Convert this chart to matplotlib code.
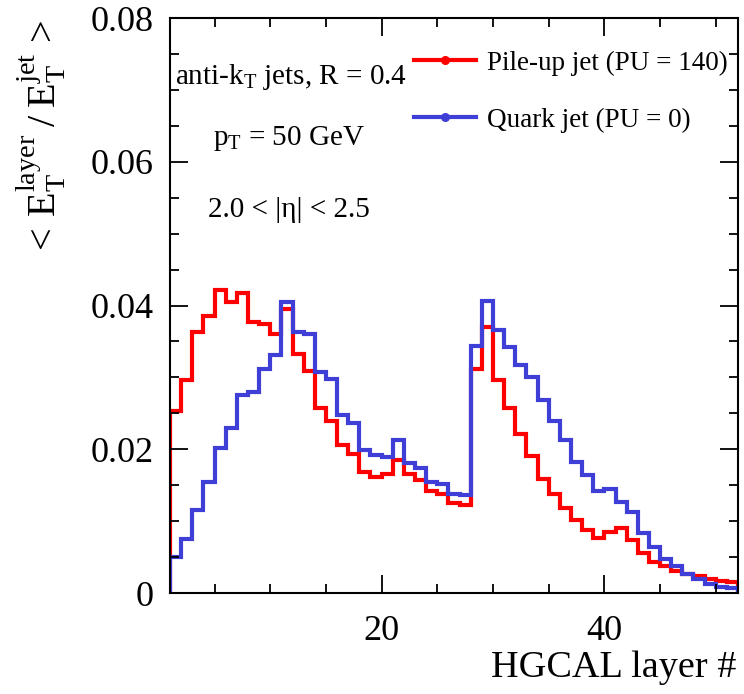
import numpy as np
import matplotlib
matplotlib.use("Agg")
import matplotlib.pyplot as plt
from matplotlib.ticker import MultipleLocator, FuncFormatter

# ---- data: per-layer mean fraction, layers 1..51 (bin edges 1..52) ----
layer_edges = list(range(1, 53))
pileup = [0.0253, 0.0297, 0.0363, 0.0386, 0.0422, 0.0405, 0.0417, 0.0377, 0.0375, 0.0361,
          0.0395, 0.0333, 0.0309, 0.0257, 0.0240, 0.0206, 0.0194, 0.0168, 0.0162, 0.0165,
          0.0185, 0.0166, 0.0157, 0.0142, 0.0138, 0.0125, 0.0123, 0.0311, 0.0370, 0.0297,
          0.0257, 0.0221, 0.0190, 0.0159, 0.0138, 0.0118, 0.0101, 0.0088, 0.0077, 0.0085,
          0.0091, 0.0074, 0.0055, 0.0043, 0.0037, 0.0031, 0.0026, 0.0023, 0.0019, 0.0017,
          0.0015]
quark = [0.0050, 0.0075, 0.0115, 0.0154, 0.0202, 0.0230, 0.0275, 0.0280, 0.0312, 0.0331,
         0.0405, 0.0363, 0.0361, 0.0307, 0.0298, 0.0247, 0.0237, 0.0199, 0.0192, 0.0189,
         0.0213, 0.0181, 0.0174, 0.0155, 0.0152, 0.0138, 0.0136, 0.0344, 0.0407, 0.0366,
         0.0343, 0.0317, 0.0301, 0.0268, 0.0240, 0.0213, 0.0182, 0.0164, 0.0142, 0.0145,
         0.0127, 0.0113, 0.0083, 0.0064, 0.0048, 0.0037, 0.0027, 0.0019, 0.0013, 0.0009,
         0.0007]
labels = ["Pile-up jet (PU = 140)", "Quark jet (PU = 0)"]
colors = ["#ff0000", "#3f3fd8"]

plt.rcParams["font.family"] = ["Liberation Serif", "DejaVu Serif"]
plt.rcParams["mathtext.fontset"] = "custom"
plt.rcParams["mathtext.rm"] = "Liberation Serif"
plt.rcParams["mathtext.it"] = "Liberation Serif:italic"

fig = plt.figure(figsize=(7.44, 6.94), dpi=100)
ax = fig.add_axes([0.2285, 0.1455, 0.7635, 0.8285])

for vals, col, lab in zip([pileup, quark], colors, labels):
    ax.stairs(vals, layer_edges, baseline=0, color=col, lw=3.0, clip_on=True)
    ax.plot([], [], color=col, lw=3.0, marker="o", ms=5.5, label=lab)

ax.set_xlim(1, 52)
ax.set_ylim(0, 0.08)

ax.xaxis.set_major_locator(MultipleLocator(20))
ax.xaxis.set_minor_locator(MultipleLocator(5))
ax.yaxis.set_major_locator(MultipleLocator(0.02))
ax.yaxis.set_minor_locator(MultipleLocator(0.005))
ax.yaxis.set_major_formatter(FuncFormatter(lambda v, p: "0" if abs(v) < 1e-9 else f"{v:.2f}"))
ax.tick_params(which="both", direction="in", top=True, right=True, width=1.3, labelsize=26)
ax.tick_params(which="major", length=13)
ax.tick_params(which="minor", length=6.5)
ax.tick_params(axis="x", pad=16)
ax.tick_params(axis="y", pad=12)
for s in ax.spines.values():
    s.set_linewidth(1.5)

ax.text(0.009, 0.897, r"anti-k$_{\mathrm{T}}$ jets, R = 0.4", transform=ax.transAxes,
        fontsize=21, ha="left", va="center")
ax.text(0.076, 0.791, r"p$_{\mathrm{T}}$ = 50 GeV", transform=ax.transAxes,
        fontsize=21, ha="left", va="center")
ax.text(0.067, 0.666, "2.0 < |η| < 2.5", transform=ax.transAxes,
        fontsize=21, ha="left", va="center")

leg = ax.legend(loc="upper right", bbox_to_anchor=(0.982, 0.943), frameon=False,
                fontsize=19.5, handlelength=2.3, labelspacing=1.16, handletextpad=0.4,
                borderpad=0, borderaxespad=0)

fig.text(0.056, 0.971, r"$<\,\mathrm{E}_{\mathrm{T}}^{\mathrm{layer}}\;/\;\mathrm{E}_{\mathrm{T}}^{\mathrm{jet}}\,>$",
         rotation=90, fontsize=29, ha="center", va="top")
fig.text(0.990, 0.0245, "HGCAL layer #", fontsize=27.5, ha="right", va="baseline")

fig.savefig("out.png", dpi=100, facecolor="white")
